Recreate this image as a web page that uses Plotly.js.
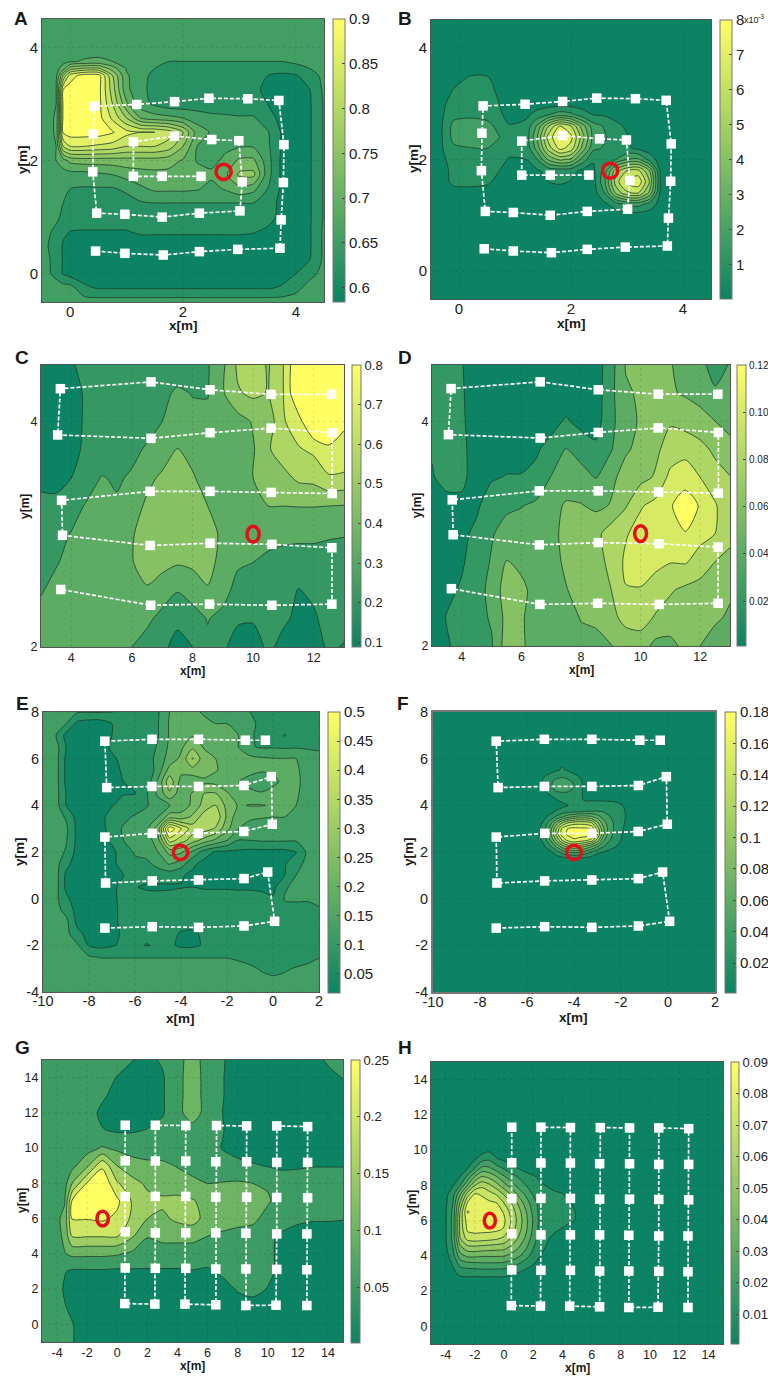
<!DOCTYPE html>
<html><head><meta charset="utf-8">
<script src="https://cdn.plot.ly/plotly-3.0.1.min.js"></script>
<style>html,body{margin:0;padding:0;background:#fff}#c{width:768px;height:1376px}</style>
</head><body><div id="c"></div>
<script>
const xA=[-.5,-.25,-.125,0,.25,.5,.75,1,1.25,1.5,1.75,2,2.25,2.5,2.75,3,3.25,3.5,3.75,4,4.25,4.5];
const yA=[-.5,-.25,0,.25,.5,.75,1,1.25,1.5,1.75,2,2.25,2.5,2.75,3,3.25,3.5,3.625,3.75,4,4.25,4.5];
const levelA=[
[2.5,2.5,2.5,2.5,2.5,2.5,2.5,2.5,2.5,2.5,2.5,2.5,2.5,2.5,2.5,2.5,2.5,2.5,2.5,2.5,2.5,2.5],
[2.5,2.5,2.45,2.4,1.2,.9,.9,.9,.9,.9,.9,.9,.9,.9,.9,.9,.9,.9,1.1,1.7,2.4,2.5],
[2.5,1.7,.9,.6,.5,.5,.5,.5,.5,.5,.5,.5,.5,.5,.5,.5,.5,.5,.6,1,1.7,2.3],
[2.4,1.7,.9,.5,.4,.4,.4,.4,.4,.4,.4,.4,.4,.4,.4,.4,.4,.4,.4,.5,1,2.2],
[2.3,1.6,.9,.5,.4,.4,.4,.4,.4,.4,.4,.4,.4,.4,.4,.4,.4,.4,.4,.4,.9,2.2],
[2.4,1.8,1.2,1,.95,.95,.95,.95,1.2,1.2,1.2,1.2,1.2,1.2,1.2,1.2,1.1,.8,.4,.4,.9,2.2],
[2.5,2.2,1.8,1.5,1.5,1.5,1.5,1.5,1.5,1.5,1.5,1.5,1.5,1.5,1.5,1.5,1.6,1.4,.7,.4,.9,2.1],
[2.5,2.4,2,1.6,1.6,1.6,1.6,1.6,1.9,2,2,2,2,2,2,2,2,1.5,.7,.4,.9,2.1],
[2.5,2.4,2.2,2,1.9,1.9,1.9,2.2,2.8,3.2,3.2,3.2,3.1,2.7,3.1,3.7,3.3,2,.8,.4,.9,2.1],
[2.5,2.5,2.55,2.6,2.6,2.8,3,3.4,3.6,3.7,3.7,3.7,3.5,3.2,3.8,5.2,5.3,2.4,.8,.4,.9,2.1],
[2.5,3,3.6,4.3,4.5,4.5,4.5,4.6,4.6,4.6,4.4,3.9,2.9,2.7,3.2,4.2,4.2,2.4,.8,.4,.9,2.1],
[2.5,3,7,8,8,7.8,7.6,7,7,7,6.5,5,3,2.8,2.8,2.9,2.9,2.2,.9,.4,.9,2.1],
[2.5,3.1,9.2,9.5,9.5,9.5,9.1,8.3,8,8,7.5,6,3.5,2.9,2.8,2.7,2.6,2.1,.9,.4,.9,2.1],
[2.5,3.1,9.2,9.5,9.5,9.4,7.8,6,4,3.5,3.3,3,2.6,2.3,2.2,2.1,2.1,1.4,.7,.4,.9,2.1],
[2.5,3,9.2,9.5,9.5,9.4,7,4.2,2.4,1.8,1.4,1.4,1.4,1.4,1.4,1.4,1.4,1,.6,.4,.9,2.1],
[2.5,3,9,9.5,9.5,9.4,6.5,3.2,2.4,1.5,1.2,1.2,1.2,1.2,1.2,1.2,1.2,.8,.5,.5,1,2.2],
[2.5,2.7,6,8.5,9.5,9.5,6,3.1,2.5,1.6,1.2,1.2,1.2,1.2,1.2,1.2,1.2,1,.8,.9,1.5,2.3],
[2.5,2.6,3.5,5.5,6.2,6.2,4.5,2.9,2.5,2,1.6,1.6,1.6,1.6,1.6,1.6,1.6,1.5,1.4,1.6,2,2.4],
[2.5,2.5,2.7,2.9,3.1,3.2,3,2.7,2.5,2.2,2,2,2,2,2,2,2,2,2,2.2,2.4,2.5],
[2.5,2.5,2.5,2.5,2.5,2.5,2.5,2.5,2.5,2.5,2.5,2.5,2.5,2.5,2.5,2.5,2.5,2.5,2.5,2.5,2.5,2.5],
[2.5,2.5,2.5,2.5,2.5,2.5,2.5,2.5,2.5,2.5,2.5,2.5,2.5,2.5,2.5,2.5,2.5,2.5,2.5,2.5,2.5,2.5],
[2.5,2.5,2.5,2.5,2.5,2.5,2.5,2.5,2.5,2.5,2.5,2.5,2.5,2.5,2.5,2.5,2.5,2.5,2.5,2.5,2.5,2.5]];

const xB=[-.5,-.3,-.1,.2,.5,.7,.9,1.2,1.4,1.6,1.8,2,2.2,2.4,2.6,2.8,3,3.2,3.4,3.6,4.5];
const yB=[-.5,1,1.2,1.4,1.6,1.8,2,2.2,2.4,2.6,2.8,3,3.2,3.4,3.6,3.8,4.5];
const levelB=[
[.5,.5,.5,.5,.5,.5,.5,.5,.5,.5,.5,.5,.5,.5,.5,.5,.5,.5,.5,.5,.5],
[.5,.5,.5,.5,.5,.5,.5,.5,.5,.5,.5,.5,.5,.5,.5,.5,.5,.5,.5,.5,.5],
[.5,.5,.5,.5,.5,.5,.5,.5,.5,.5,.5,.5,.5,.5,.8,1.5,2.2,2.4,1.6,.6,.5],
[.5,.5,.5,.5,.5,.5,.5,.5,.5,.5,.5,.5,.5,.5,2,5.2,6.8,7,4.8,.7,.5],
[.5,.5,1.3,1.4,1.2,.7,.5,.5,.7,1,1.15,.95,.5,.6,2.8,6.5,8.3,8.8,6,.8,.5],
[.5,.6,1.3,1.4,1.3,1.05,.6,.6,.9,1.3,1.4,1.3,.8,.8,2.4,5.5,7,7.3,5,.7,.5],
[.5,.8,1.4,1.5,1.4,1.2,.95,1,2,4.2,5.2,4.8,2.6,1.1,1.3,2,3,3.2,1.6,.5,.5],
[.5,.95,1.8,1.95,2,1.5,1.2,1.3,3.5,6.5,8.3,7.6,4.7,2.2,1.9,1.4,1.15,.8,.5,.5,.5],
[.5,1,2.3,2.6,2.6,2.1,1.4,1.4,4,7.5,8.9,8.3,5.5,2.6,2.1,1.5,1.1,.7,.5,.5,.5],
[.5,1,2.3,2.5,2.4,1.7,1.05,1.3,3.2,6,8,7,4.5,2.4,1.9,1.3,.8,.5,.5,.5,.5],
[.5,.9,1.7,1.8,1.6,1.2,.7,.8,1.4,2,2.6,2.3,1.5,1,.9,.6,.5,.5,.5,.5,.5],
[.5,.8,1.4,1.5,1.4,1.05,.5,.5,.5,.5,.5,.5,.5,.5,.5,.5,.5,.5,.5,.5,.5],
[.5,.6,1.1,1.3,1.3,.9,.5,.5,.5,.5,.5,.5,.5,.5,.5,.5,.5,.5,.5,.5,.5],
[.5,.5,.8,1.2,1.2,.7,.5,.5,.5,.5,.5,.5,.5,.5,.5,.5,.5,.5,.5,.5,.5],
[.5,.5,.5,.8,.8,.5,.5,.5,.5,.5,.5,.5,.5,.5,.5,.5,.5,.5,.5,.5,.5],
[.5,.5,.5,.5,.5,.5,.5,.5,.5,.5,.5,.5,.5,.5,.5,.5,.5,.5,.5,.5,.5],
[.5,.5,.5,.5,.5,.5,.5,.5,.5,.5,.5,.5,.5,.5,.5,.5,.5,.5,.5,.5,.5]];

const xCD=[3,3.5,4,4.5,5,5.5,6,6.5,7,7.5,8,8.5,9,9.5,10,10.5,11,11.5,12,12.5,13];
const yCD=[2,2.25,2.5,2.75,3,3.25,3.5,3.75,4,4.25,4.5];
const levelC=[
[2.5,2.5,2.5,2.5,2.5,2.3,2,1.6,1.2,.7,1,1.8,1.2,.5,.5,1.2,.7,.3,.5,1.2,.9],
[2.4,2.6,2.7,2.7,2.7,2.6,2.5,2.2,1.7,1.2,1.6,2.05,1.7,1.15,1.1,1.4,1.15,.8,.85,1.4,1.5],
[1.9,2.4,2.7,2.9,2.9,2.8,2.8,2.9,2.5,2.05,2.4,2.9,2.4,1.6,1.4,1.5,1.4,.95,1.2,1.4,1.5],
[1.6,1.9,2.4,2.6,2.7,2.8,2.95,3.4,3.3,3.1,3.2,3.4,2.6,2.15,2,1.8,1.7,1.6,1.6,1.6,1.6],
[1.5,1.7,2.05,2.3,2.4,2.5,2.9,3.5,3.5,3.5,3.5,3.4,2.8,2.5,2.4,2.3,2.2,2.2,2.2,2.1,2.05],
[1.1,1.4,1.6,2.1,2.2,2.1,2.5,3.2,3.5,3.6,3.5,3,2.7,2.7,2.8,3,3,3.03,3.03,3,2.95],
[.9,.5,1,1.5,2.05,1.9,2.1,2.7,3.2,3.5,3.1,2.6,2.5,2.6,3,3.6,3.7,4.2,4.3,4.9,4.8],
[.5,.4,.7,1.2,1.4,1.6,1.8,2.1,2.4,3.05,2.7,2.4,2.4,2.6,2.9,3.9,4.5,4.9,5.2,5.7,5.8],
[.4,.3,.5,1.2,1.4,1.5,1.6,1.7,2,2.3,2.3,2.2,2.5,2.6,3.1,3.4,4.9,5.6,7.3,7.5,6.1],
[.4,.3,.5,1.2,1.3,1.4,1.4,1.5,1.7,2.2,1.95,1.95,2.9,3.9,4.2,3.95,5,7.1,7.5,7.5,7.5],
[.4,.3,.9,1.3,1.3,1.3,1.3,1.3,1.3,1.3,1.3,1.9,2.8,4.2,4.5,3.9,5,7.1,7.5,7.5,7.5]];
const levelD=[
[.5,.9,1.3,1.6,1.9,3.5,3.1,2.7,2.5,2.5,2.7,2.5,2.95,3.4,3.5,2.7,2.7,3.3,3,2.7,2.5],
[.5,1.05,1.4,1.7,2.1,3.3,3.1,2.6,2.5,2.6,3.05,3.3,3.7,4.3,4.4,3.9,3.6,3.4,3.2,3.1,2.9],
[.5,.8,1.1,1.6,2.3,3.5,3.2,2.7,2.6,2.95,3.4,3.6,3.98,4.95,4.95,4.5,4.1,3.8,3.6,3.3,3.1],
[.5,.7,.9,1.4,2.1,3.05,2.8,2.6,2.6,3.2,3.4,3.7,4.2,5.2,5.4,5.3,5.05,5.1,4.6,4,3.8],
[.5,.6,.8,1.2,1.9,2.4,2.5,2.6,2.8,3.2,3.4,3.7,4.5,4.9,5.4,5.5,5.9,5.95,5.3,5,4.2],
[.5,.6,.8,.85,1.5,1.8,1.95,2.2,2.7,3.1,3.05,2.8,3.05,3.9,4.9,5.3,5.9,6.6,5.9,5.1,4.3],
[.9,1.4,1.2,.6,.9,1.05,1.05,1.2,2.05,2.5,2.4,1.95,2.8,3.3,3.7,4.1,5.3,5.5,5,4.4,4.05],
[1.1,1.4,1.2,.6,.6,.6,.7,.9,1.3,2.05,1.6,1.2,1.9,2.9,3.2,3.8,4.4,4.7,4.3,3.8,3.2],
[1.1,1.4,1.15,.5,.5,.5,.5,.5,.7,1.1,.7,.6,1.7,2.7,3.1,3.3,3.9,3.6,3.4,3,2.8],
[1.1,1.4,1.1,.5,.5,.5,.5,.5,.5,.5,.5,.5,1.7,2.9,3.1,3.1,3.1,2.9,2.6,2.1,2.3],
[1.2,1.4,1.05,.5,.5,.5,.5,.5,.5,.5,.5,.5,1.6,3.05,3.1,3.1,3.05,2.7,2.2,1.7,2.05]];

const xE=[-10,-9.5,-9,-8.5,-8,-7.5,-7,-6.5,-6,-5.5,-5,-4.5,-4,-3.5,-3,-2.5,-2,-1.5,-1,-.5,0,.5,1,1.5,2];
const yE=[-4,-3.5,-3,-2.5,-2,-1.5,-1,-.5,0,.5,1,1.5,2,2.5,3,3.5,4,4.5,5,5.5,6,6.5,7,7.5,8];
const levelE=[
[2.5,2.5,2.5,2.5,2.5,2.5,2.5,2.5,2.5,2.5,2.5,2.5,2.5,2.5,2.5,2.5,2.5,2.5,2.5,2.5,2.5,2.5,2.5,2.5,2.5],
[2.5,2.5,2.5,2.5,2.5,2.5,2.5,2.5,2.5,2.5,2.5,2.5,2.5,2.5,2.5,2.5,2.5,2.5,2.4,2.3,2.2,2.3,2.4,2.5,2.5],
[2.5,2.5,2.5,2.5,2.5,2.5,2.5,2.5,2.5,2.5,2.5,2.5,2.5,2.5,2.5,2.5,2.5,2.4,2.2,1.9,1.7,1.85,2.1,2.3,2.5],
[2.5,2.5,2.5,2.5,2.1,1.95,1.95,1.95,1.95,1.95,1.95,1.95,1.95,1.95,1.95,1.95,1.95,1.8,1.6,1.4,1.3,1.3,1.4,1.6,1.95],
[2.5,2.5,2.5,2.1,.9,.7,.9,1.2,1.2,.95,1.1,1.2,.8,.8,1.1,1.3,1.3,1.3,1.3,1.3,1.3,1.3,1.3,1.3,1.4],
[2.5,2.5,2.3,1.3,.6,.5,.6,1.2,1.3,1.3,1.3,1.3,.9,.8,1.2,1.3,1.3,1.3,1.3,1.3,1.3,1.3,1.3,1.4,1.5],
[2.5,2.4,2.3,.7,.6,.5,.7,1.3,1.4,1.4,1.4,1.4,1.4,1.4,1.4,1.4,1.4,1.4,1.4,1.5,1.95,1.6,1.5,1.6,1.7],
[2.5,2.4,1.7,.6,.5,.5,.7,1.3,1.4,1.4,1.4,1.4,1.4,1.4,1.4,1.4,1.4,1.4,1.4,1.6,1.7,1.8,1.75,1.85,1.95],
[2.5,2.4,1.2,.5,.4,.4,.7,1.4,1.4,1.4,1.4,1.4,1.4,1.4,1.4,1.4,1.4,1.4,1.4,1.3,1.1,2.05,2.1,2.05,2.1],
[2.6,2.6,.8,.5,.4,.4,.7,1.4,1.05,.85,.8,.85,.95,1,.9,.9,.9,.85,.85,.8,.7,1.9,2.2,2.3,2.4],
[2.6,2.6,.8,.4,.4,.4,.8,1,1.5,1.5,1.5,1.4,1.1,.8,.7,.7,.7,.7,.7,.7,.7,.95,2,2.3,2.4],
[2.6,2.5,1.3,.5,.4,.4,.75,1.4,1.8,1.8,2.3,3.1,2.5,1.2,.7,.7,.7,.7,.7,.7,.7,.9,1.6,2.3,2.4],
[2.6,2.5,1.9,.6,.4,.4,.7,1.6,2.1,2.3,3,4.3,4.2,2.8,1.5,.9,.8,.8,.7,.7,.7,.7,.95,2.2,2.4],
[2.6,2.5,2.1,.7,.4,.5,1.2,2,2.1,2.4,3.6,7.5,6.5,5.5,4.6,3.8,3,1.95,2,2.1,2.1,2.1,2.1,2.3,2.4],
[2.6,2.5,2.2,.7,.4,.5,1.6,2.1,2.3,2.8,4.5,9.8,8,6.5,6.5,5.9,4.3,3,2.5,2.3,2.2,2.2,2.2,2.4,2.5],
[2.6,2.5,1.9,.6,.4,.8,1.3,1.8,2.1,2.4,3,4.5,4.4,5.2,6.5,6.8,4.8,3.3,3.2,3.1,3,3,2.9,2.4,2.5],
[2.6,2.6,1,.5,.4,.7,.95,1.3,1.6,1.9,2.5,3,3.4,4.2,5.4,6,4.7,3.9,4.05,4.05,3.9,3.1,3,2.4,2.4],
[2.6,2.6,1,.5,.4,.4,.9,.95,.95,1.9,3.2,4.8,3.4,4.1,5,5.1,4.1,3.5,3.3,3.1,3.3,3.3,3.2,2.4,2.4],
[2.6,2.6,.8,.5,.4,.4,.5,1,1.2,1.3,3.2,5.7,3.6,3.2,3.8,3.7,3.5,3,2.6,2.4,2.8,3.2,3.3,2.5,2.4],
[2.6,2.6,.8,.5,.4,.4,.5,1.2,1.3,1.3,2.4,4.4,4.3,4.6,4.4,4.05,3.8,3.4,3.3,3.1,3.1,3.2,3.2,2.5,2.4],
[2.6,2.6,.8,.5,.4,.5,.8,1.3,1.3,1.4,2.4,3.4,4.2,6.1,4.4,4,3.6,3.4,3.3,3.15,3.05,3.03,3,2.4,2.2],
[2.6,2.6,1,.5,.4,.4,1.2,1.4,1.4,1.5,2.1,3.2,3.8,4.8,3.9,3.5,3.3,3,2.1,1.9,1.9,1.85,1.9,1.9,1.9],
[2.6,2.2,.7,.5,.4,.4,1,1.4,1.4,1.5,1.95,3.1,3.5,3.9,3.2,3.1,3.05,3,2.05,1.9,1.9,.9,1.9,1.9,1.9],
[2.6,2.5,2,.7,.5,.5,1,1.4,1.4,1.5,1.95,3.1,3.4,3.6,3.1,3,3,2.9,2.1,1.9,1.9,1.9,1.9,1.9,1.9],
[2.5,2.5,2.4,2.1,2.05,2.05,2.05,1.5,1.5,1.5,1.9,3,3.1,3.1,2.95,2.6,2.2,2.1,2,1.95,1.9,1.9,1.9,1.9,1.9]];

const xF=[-10,-5.6,-5.3,-5,-4.75,-4.5,-4.25,-4,-3.75,-3.5,-3.25,-3,-2.75,-2.5,-2.25,-2,-1.75,-1.5,2];
const yF=[-4,1.5,1.75,2,2.25,2.5,2.75,3,3.25,3.5,3.75,4,4.25,4.5,4.75,5,5.25,5.5,8];
const levelF=[
[.3,.3,.3,.3,.3,.3,.3,.3,.3,.3,.3,.3,.3,.3,.3,.3,.3,.3,.3],
[.3,.3,.3,.3,.3,.3,.3,.3,.3,.3,.3,.3,.3,.3,.3,.3,.3,.3,.3],
[.3,.3,.3,.3,.5,.8,.95,1.05,1,.9,.7,.5,.4,.3,.3,.3,.3,.3,.3],
[.3,.3,.4,.8,1.6,2.4,3,3.3,3,2.5,1.9,1.2,.95,.7,.5,.3,.3,.3,.3],
[.3,.4,.8,1.9,3.2,4.6,5.6,6,5.6,5,4.2,3.2,2.1,1.5,1.1,.7,.3,.3,.3],
[.3,.5,1.2,3,5,7,8.3,8.8,8.5,8.2,7.5,5.5,3.2,2.1,1.5,1,.5,.3,.3],
[.3,.6,1.5,3.8,6.2,8.5,9.2,9.5,9.5,9.5,9.3,7,4.2,2.4,1.7,1.1,.6,.3,.3],
[.3,.6,1.4,3.6,6,8.3,9.1,9.3,9.2,9.2,8.9,6.6,4.2,2.5,1.8,1.2,.7,.3,.3],
[.3,.5,1.1,2.6,4.4,6,7,7.5,7.6,7.5,7,5.2,3.5,2.4,1.8,1.3,.8,.3,.3],
[.3,.3,.7,1.4,2.2,3,3.7,4.2,4.5,4.5,4.2,3.5,2.6,2.1,1.7,1.3,.9,.4,.3],
[.3,.3,.3,.6,1.1,1.3,1.5,1.6,1.7,1.9,2,2,1.9,1.7,1.5,1.2,.9,.3,.3],
[.3,.3,.3,.3,.5,.8,1,1.1,1.1,1.3,1.3,1.3,1.3,1.2,1.15,1.1,.8,.3,.3],
[.3,.3,.3,.4,1,1.2,1.3,1.25,1.1,.9,.9,.9,.9,.9,.9,.6,.3,.3,.3],
[.3,.3,.7,1.2,1.6,1.7,1.7,1.6,1.2,.7,.3,.3,.3,.3,.3,.3,.3,.3,.3],
[.3,.5,1.1,1.7,2.6,3,2.6,1.9,1.4,.5,.3,.3,.3,.3,.3,.3,.3,.3,.3],
[.3,.5,1.2,1.8,2.4,2.7,2.4,1.8,1.3,.5,.3,.3,.3,.3,.3,.3,.3,.3,.3],
[.3,.3,.9,1.4,1.7,1.8,1.5,1.3,.9,.3,.3,.3,.3,.3,.3,.3,.3,.3,.3],
[.3,.3,.3,.6,.95,1.05,.95,.6,.3,.3,.3,.3,.3,.3,.3,.3,.3,.3,.3],
[.3,.3,.3,.3,.3,.3,.3,.3,.3,.3,.3,.3,.3,.3,.3,.3,.3,.3,.3]];

const xG=[-5,-4,-3.5,-3,-2,-1,0,1,2,3,4,5,6,7,8,9,10,11,12,13,14,15];
const yG=[-1,0,1,2,3,4,5,6,7,8,9,10,11,12,13,14,15];
const levelG=[
[1.5,1.4,1.4,1.05,.6,.5,.5,.5,.5,.5,.5,.5,.5,.5,.5,.5,.5,.5,.5,.5,.5,.5],
[1.5,1.4,1.3,1.05,.5,.5,.5,.5,.5,.5,.5,.5,.5,.5,.5,.5,.5,.5,.5,.5,.5,.5],
[1.5,1.2,1.05,.8,.5,.5,.5,.5,.5,.5,.5,.5,.5,.5,.5,.5,.5,.5,.5,.5,.5,.5],
[1.5,1.3,.9,.7,.5,.5,.5,.5,.5,.5,.5,.5,.5,.6,1.1,1.4,.95,.5,.5,.5,.5,.5],
[1.5,1.2,1.05,.85,.85,.85,.8,.85,.9,.9,.9,.95,.85,1.2,1.5,1.6,1.3,.6,.5,.5,.5,.5],
[1.6,1.6,1.95,2.2,2.2,2.2,2.1,1.8,1.5,1.5,1.5,1.5,1.5,1.5,1.5,1.5,1.3,.6,.5,.5,.5,.5],
[1.6,1.7,2.2,4.05,4.05,4.05,4.05,3.1,2.05,2.3,2.3,2.3,2,1.8,1.6,1.6,1.2,.8,.6,.5,.5,.5],
[1.6,1.8,2.3,5.05,5.05,5.15,4.8,3.8,3,2.8,3.2,3.4,2.6,2.5,2.4,2.2,1.7,1.5,1.2,1.1,1.1,1.05],
[1.6,1.8,1.9,5.1,5.5,5.6,5.2,3.9,3.3,3.2,3.3,3.1,2.6,2.6,2.6,2.5,2.1,1.6,1.6,1.6,1.6,1.6],
[1.5,1.6,1.6,3,5.1,5.9,4.1,3.4,2.8,2.5,2.4,2.2,2,2.05,2.1,2,1.9,1.6,1.6,1.6,1.6,1.6],
[1.5,1.5,1.5,1.7,2.8,4.8,3,2.3,2.2,2.2,1.95,1.7,1.5,1.4,1.3,1.1,.95,.8,.85,.95,.95,.95],
[1.5,1.5,1.5,1.5,1.6,2.1,1.8,1.7,1.6,1.5,1.5,1.5,1.4,.95,.6,.5,.5,.5,.5,.5,.5,.5],
[1.5,1.5,1.5,1.5,1.4,1.05,.9,.9,1.05,1.3,1.6,1.6,1.5,1.05,.5,.5,.5,.5,.5,.5,.5,.5],
[1.5,1.5,1.5,1.5,1.4,.8,.5,.5,.6,.9,1.7,2.5,1.6,1,.5,.5,.5,.5,.5,.5,.5,.5],
[1.5,1.5,1.5,1.5,1.3,1.15,.7,.5,.5,.9,1.7,2.5,1.6,1.05,.5,.5,.5,.5,.5,.5,.5,.5],
[1.5,1.5,1.5,1.5,1.5,1.4,.95,.5,.5,.9,1.7,2.5,1.6,1.05,.5,.5,.5,.5,.5,.5,.6,1.05],
[1.5,1.5,1.5,1.5,1.5,1.5,1.5,1.05,.8,1.1,1.7,2.4,1.6,1.1,.5,.5,.5,.5,.5,.5,1.2,1.5]];

const xH=[-5,-4,-3.5,-3,-2.5,-2,-1.5,-1,-.5,0,.5,1,1.5,2,2.5,3,3.5,4,4.5,5,6,15];
const yH=[-1,2.5,3,3.5,4,4.5,5,5.5,6,6.5,7,7.5,8,8.5,9,9.5,10,15];
const levelH=[
[.5,.5,.5,.5,.5,.5,.5,.5,.5,.5,.5,.5,.5,.5,.5,.5,.5,.5,.5,.5,.5,.5],
[.5,.5,.5,.5,.5,.5,.5,.5,.5,.5,.5,.5,.5,.5,.5,.5,.5,.5,.5,.5,.5,.5],
[.5,.5,.8,1.2,1.3,1.3,1.3,1.3,1.3,1.3,1.1,.9,.6,.5,.5,.5,.5,.5,.5,.5,.5,.5],
[.5,.5,1.05,2.3,2.5,2.6,2.7,2.7,2.7,2.6,2.3,1.9,1.4,1,.7,.5,.5,.5,.5,.5,.5,.5],
[.5,.6,1.6,3.6,4.2,4.2,4.1,4.1,4.1,4.05,3.7,3.2,2.4,1.6,1,.7,.5,.5,.5,.5,.5,.5],
[.5,.8,2,4.8,5.7,5.8,5.7,5.6,5.5,5.4,4.8,4.1,3.2,2.1,1.2,.9,.6,.5,.5,.5,.5,.5],
[.5,.9,2.3,6,7.4,7.6,7.5,7.4,7.2,6.8,5.9,4.9,3.8,2.5,1.4,1.05,.8,.5,.5,.5,.5,.5],
[.5,.9,2.3,6.3,8.2,8.3,8.3,8.3,8.2,7.9,6.6,5.4,4.2,2.8,1.5,1.2,1.1,.95,.7,.5,.5,.5],
[.5,.9,2.3,6.4,8.5,8.7,8.6,8.6,8.5,8.2,6.9,5.6,4.3,2.9,1.6,1.2,1.2,1.2,1.1,.95,.5,.5],
[.5,.9,2.2,6.1,9.1,8.7,8.6,8.5,8.4,7.9,6.6,5.4,4.1,2.7,1.6,1.3,1.2,1.2,1.15,.95,.5,.5],
[.5,.8,2,5.2,8.1,8.3,8.3,8.2,8,7,6,4.8,3.5,2.5,1.5,1.3,1.2,1.2,1.05,.7,.5,.5],
[.5,.7,1.6,3.9,6.5,8.1,7.9,7.4,6.9,5.9,4.9,3.7,2.8,1.9,1.3,1.2,1.1,1.05,.6,.5,.5,.5],
[.5,.5,.9,2,4,6,6.7,6.2,5.4,4.4,3.5,2.6,2,1.4,1.1,.95,.8,.6,.5,.5,.5,.5],
[.5,.5,.5,1,2.2,4,5,4.7,4,3.1,2.4,1.9,1.4,1.1,.8,.5,.5,.5,.5,.5,.5,.5],
[.5,.5,.5,.5,.9,2,3.2,3.1,2.4,1.8,1.2,.9,.6,.5,.5,.5,.5,.5,.5,.5,.5,.5],
[.5,.5,.5,.5,.5,.9,1.6,1.8,1.05,.8,.5,.5,.5,.5,.5,.5,.5,.5,.5,.5,.5,.5],
[.5,.5,.5,.5,.5,.5,.5,.8,.5,.5,.5,.5,.5,.5,.5,.5,.5,.5,.5,.5,.5,.5],
[.5,.5,.5,.5,.5,.5,.5,.5,.5,.5,.5,.5,.5,.5,.5,.5,.5,.5,.5,.5,.5,.5]];

// measurement routes
const routeABx=[.45,.97,1.65,2.29,2.97,3.72,3.74,3.78,3.79,3.7,3.15,2.46,1.85,1.18,.43,.41,.4,.47,.97,1.63,2.29,3.01,3.05,2.99,2.51,1.85,1.12,1.12,1.63,2.32];
const routeABy=[.4,.36,.33,.39,.43,.45,.95,1.61,2.28,3.06,3.09,3.1,3.04,2.99,2.96,2.47,1.8,1.07,1.05,1,1.07,1.11,1.62,2.35,2.37,2.43,2.33,1.72,1.72,1.72];
const routeCDx=[12.59,10.59,8.58,6.63,3.64,3.55,6.63,8.58,10.59,12.61,12.61,10.6,8.58,6.6,3.68,3.71,6.6,8.58,10.62,12.6,12.6,10.62,8.56,6.62,3.65];
const routeCDy=[4.24,4.24,4.28,4.35,4.29,3.88,3.85,3.9,3.94,3.9,3.36,3.37,3.38,3.38,3.3,2.99,2.9,2.92,2.91,2.88,2.38,2.37,2.38,2.37,2.51];
const routeEFx=[-.33,-1.2,-3.24,-5.26,-7.31,-7.23,-5.26,-3.24,-1.26,-.07,-.03,-1.27,-3.24,-5.25,-7.31,-7.28,-5.25,-3.24,-1.26,-.23,.07,-1.26,-3.24,-5.25,-7.31];
const routeEFy=[6.79,6.79,6.83,6.83,6.75,4.76,4.81,4.81,4.85,5.23,3.19,2.88,2.8,2.8,2.64,.67,.76,.8,.86,1.14,-.97,-1.17,-1.23,-1.2,-1.26];
const routeGHx=[.53,.53,.53,.53,.53,.5,2.5,2.53,2.53,2.53,2.53,2.53,4.55,4.55,4.55,4.55,4.55,4.5,6.55,6.55,6.55,6.55,6.55,6.6,8.6,8.6,8.6,8.55,8.55,8.55,10.55,10.6,10.6,10.6,10.6,10.6,12.65,12.65,12.65,12.6,12.6,12.6];
const routeGHy=[11.3,9.28,7.25,5.26,3.2,1.18,1.15,3.18,5.19,7.26,9.27,11.3,11.28,9.27,7.26,5.19,3.18,1.15,1.11,3.14,5.19,7.22,9.23,11.28,11.26,9.23,7.22,5.17,3.14,1.07,1.09,3.12,5.13,7.2,9.19,11.26,11.22,9.19,7.18,5.13,3.1,1.07];

// colour-bar ticks
const ticksA=[.6,.65,.7,.75,.8,.85,.9], textA=['0.6','0.65','0.7','0.75','0.8','0.85','0.9'];
const ticksB=[.001,.002,.003,.004,.005,.006,.007,.008], textB=['1','2','3','4','5','6','7','8'];
const ticksC=[.1,.2,.3,.4,.5,.6,.7,.8], textC=['0.1','0.2','0.3','0.4','0.5','0.6','0.7','0.8'];
const ticksD=[.02,.04,.06,.08,.1,.12], textD=['0.02','0.04','0.06','0.08','0.10','0.12'];
const ticksE=[.05,.1,.15,.2,.25,.3,.35,.4,.45,.5], textE=['0.05','0.1','0.15','0.2','0.25','0.3','0.35','0.4','0.45','0.5'];
const ticksF=[.02,.04,.06,.08,.1,.12,.14,.16,.18], textF=['0.02','0.04','0.06','0.08','0.1','0.12','0.14','0.16','0.18'];
const ticksG=[.05,.1,.15,.2,.25], textG=['0.05','0.1','0.15','0.2','0.25'];
const ticksH=[.01,.02,.03,.04,.05,.06,.07,.08,.09], textH=['0.01','0.02','0.03','0.04','0.05','0.06','0.07','0.08','0.09'];

const W=768,H=1376,FONT='"Liberation Sans",Arial,sans-serif';
const scale=[[0,'rgb(12,131,99)'],[1,'rgb(255,255,100)']];
const panels=[
{n:'A',x:xA,y:yA,lv:levelA,bands:10,zr:[.584,.9],xr:[-.5,4.5],yr:[-.5,4.5],xt:[0,2,4],yt:[0,2,4],box:[42,324,19,302],cb:[333,345,19,302],tv:ticksA,tt:textA,rx:routeABx,ry:routeABy,ring:[2.72,1.8,.135,.135],lab:[21,19],tf:15,cf:15,xl:[183,326],yl:[23,160],ls:13.5,ts:-4},
{n:'B',x:xB,y:yB,lv:levelB,bands:10,zr:[.00002,.008],xr:[-.5,4.5],yr:[-.5,4.5],xt:[0,2,4],yt:[0,2,4],box:[431,711,20,299],cb:[720,732,20,299],tv:ticksB,tt:textB,rx:routeABx,ry:routeABy,ring:[2.7,1.8,.135,.135],lab:[405,18],tf:15,cf:15,xl:[571,323],yl:[413,159],ls:13.5,ts:-4},
{n:'C',x:xCD,y:yCD,lv:levelC,bands:7,zr:[.088,.8],xr:[3,13],yr:[2,4.5],xt:[4,6,8,10,12],yt:[2,4],box:[41,344,365,647],cb:[352,361,365,647],tv:ticksC,tt:textC,rx:routeCDx,ry:routeCDy,ring:[10,3,.2,.07],lab:[22,357],tf:12.5,cf:13,xl:[192,671],yl:[25,507],ls:12,ts:-1},
{n:'D',x:xCD,y:yCD,lv:levelD,bands:7,zr:[.001,.12],xr:[3,13],yr:[2,4.5],xt:[4,6,8,10,12],yt:[2,4],box:[432,730,365,646],cb:[737,746,365,646],tv:ticksD,tt:textD,rx:routeCDx,ry:routeCDy,ring:[10,3,.2,.07],lab:[405,357],tf:12.5,cf:10,xl:[581,670],yl:[417,506],ls:12,ts:-1},
{n:'E',x:xE,y:yE,lv:levelE,bands:10,zr:[.017,.5],xr:[-10,2],yr:[-4,8],xt:[-10,-8,-6,-4,-2,0,2],yt:[-4,-2,0,2,4,6,8],box:[43,319,712,992],cb:[328,340,712,993],tv:ticksE,tt:textE,rx:routeEFx,ry:routeEFy,ring:[-4.02,1.98,.31,.31],lab:[22,703],tf:14.5,cf:15,xl:[180,1018],yl:[19,852],ls:13.5,ts:-4},
{n:'F',x:xF,y:yF,lv:levelF,bands:10,zr:[.001,.18],xr:[-10,2],yr:[-4,8],xt:[-10,-8,-6,-4,-2,0,2],yt:[-4,-2,0,2,4,6,8],box:[433,715,712,992],cb:[725,736,712,993],tv:ticksF,tt:textF,rx:routeEFx,ry:routeEFy,ring:[-4,1.98,.31,.31],lab:[403,703],tf:14.5,cf:15,xl:[573,1017],yl:[408,852],ls:13.5,ts:-4,thick:true},
{n:'G',x:xG,y:yG,lv:levelG,bands:6,zr:[.001,.25],xr:[-5,15],yr:[-1,15],xt:[-4,-2,0,2,4,6,8,10,12,14],yt:[0,2,4,6,8,10,12,14],box:[42,343,1060,1342],cb:[351,360,1060,1343],tv:ticksG,tt:textG,rx:routeGHx,ry:routeGHy,ring:[-.97,6,.38,.42],lab:[22,1047],tf:12.5,cf:13,xl:[192,1366],yl:[22,1201],ls:12,ts:-1},
{n:'H',x:xH,y:yH,lv:levelH,bands:10,zr:[.0005,.09],xr:[-5,15],yr:[-1,15],xt:[-4,-2,0,2,4,6,8,10,12,14],yt:[0,2,4,6,8,10,12,14],box:[431,723,1062,1344],cb:[731,739,1062,1344],tv:ticksH,tt:textH,rx:routeGHx,ry:routeGHy,ring:[-.97,6,.38,.42],lab:[405,1047],tf:12.5,cf:13,xl:[577,1368],yl:[412,1203],ls:12,ts:-1}
];
const data=[],layout={width:W,height:H,margin:{l:0,r:0,t:0,b:0,autoexpand:false},paper_bgcolor:'#fff',plot_bgcolor:'#fff',showlegend:false,shapes:[],
 annotations:[],font:{family:FONT,color:'#222'}};
const note=(x,y,text,size,angle)=>layout.annotations.push({xref:'paper',yref:'paper',x:x/W,y:1-y/H,xanchor:'center',yanchor:'middle',showarrow:false,text:text,textangle:angle||0,font:{size:size,family:FONT,color:'#1a1a1a'}});
panels.forEach((p,i)=>{
 const k=i+1,xa=k===1?'x':'x'+k,ya=k===1?'y':'y'+k,xl='xaxis'+(k===1?'':k),yl='yaxis'+(k===1?'':k);
 const d=(p.zr[1]-p.zr[0])/p.bands;
 const z=p.lv.map(r=>r.map(b=>p.zr[0]+b*d));
 const lc=p.thick?'#777':'#555',lw=p.thick?2:1;
 const axis={tickmode:'array',ticks:'',showgrid:false,zeroline:false,showline:true,mirror:true,linecolor:lc,linewidth:lw,tickfont:{size:p.tf,family:FONT,color:'#222'},ticklen:0};
 layout[xl]=Object.assign({},axis,{domain:[p.box[0]/W,p.box[1]/W],range:p.xr,anchor:ya,tickvals:p.xt,ticktext:p.xt.map(String),ticklabelstandoff:p.ts});
 layout[yl]=Object.assign({},axis,{domain:[1-p.box[3]/H,1-p.box[2]/H],range:p.yr,anchor:xa,tickvals:p.yt,ticktext:p.yt.map(String)});
 // smooth colour bar comes from a heatmap lying under the filled contours
 data.push({type:'heatmap',x:p.x,y:p.y,z:z,xaxis:xa,yaxis:ya,zmin:p.zr[0],zmax:p.zr[1],colorscale:scale,hoverinfo:'skip',
  colorbar:{xref:'paper',yref:'paper',x:p.cb[0]/W,xanchor:'left',y:1-p.cb[2]/H,yanchor:'top',len:(p.cb[3]-p.cb[2])/H,lenmode:'fraction',thickness:p.cb[1]-p.cb[0],thicknessmode:'pixels',xpad:0,ypad:0,outlinewidth:1,outlinecolor:'#777',tickmode:'array',tickvals:p.tv,ticktext:p.tt,ticks:'inside',ticklen:3,tickcolor:'#444',tickwidth:1,tickfont:{size:p.cf,family:FONT,color:'#222'},borderwidth:0}});
 data.push({type:'contour',x:p.x,y:p.y,z:z,xaxis:xa,yaxis:ya,zmin:p.zr[0],zmax:p.zr[1],colorscale:scale,showscale:false,autocontour:false,hoverinfo:'skip',
  contours:{start:p.zr[0]+d,end:p.zr[0]+(p.bands-1)*d,size:d,coloring:'fill',showlines:true},line:{color:'#1b3d2c',width:.8,smoothing:.7}});
 data.push({type:'scatter',mode:'lines+markers',x:p.rx,y:p.ry,xaxis:xa,yaxis:ya,hoverinfo:'skip',line:{color:'#fff',width:1.7,dash:'4px,2px'},marker:{symbol:'square',size:9.5,color:'#fff'},cliponaxis:false});
 p.xt.forEach(v=>layout.shapes.push({type:'line',xref:xa,yref:ya,x0:v,x1:v,y0:p.yr[0],y1:p.yr[1],line:{color:'rgba(0,0,0,.1)',width:1,dash:'dot'}}));
 p.yt.forEach(v=>layout.shapes.push({type:'line',xref:xa,yref:ya,x0:p.xr[0],x1:p.xr[1],y0:v,y1:v,line:{color:'rgba(0,0,0,.1)',width:1,dash:'dot'}}));
 layout.shapes.push({type:'circle',xref:xa,yref:ya,x0:p.ring[0]-p.ring[2],x1:p.ring[0]+p.ring[2],y0:p.ring[1]-p.ring[3],y1:p.ring[1]+p.ring[3],line:{color:'#e3101c',width:3.5}});
 note(p.lab[0],p.lab[1],'<b>'+p.n+'</b>',19);
 note(p.xl[0],p.xl[1],'<b>x[m]</b>',p.ls);
 note(p.yl[0],p.yl[1],'<b>y[m]</b>',p.ls,-90);
});
layout.annotations.push({xref:'paper',yref:'paper',x:742/W,y:1-19/H,xanchor:'left',yanchor:'middle',showarrow:false,text:'x10<sup>-3</sup>',font:{size:9,family:FONT,color:'#222'}});
Plotly.newPlot('c',data,layout,{displayModeBar:false,staticPlot:true});
</script></body></html>
